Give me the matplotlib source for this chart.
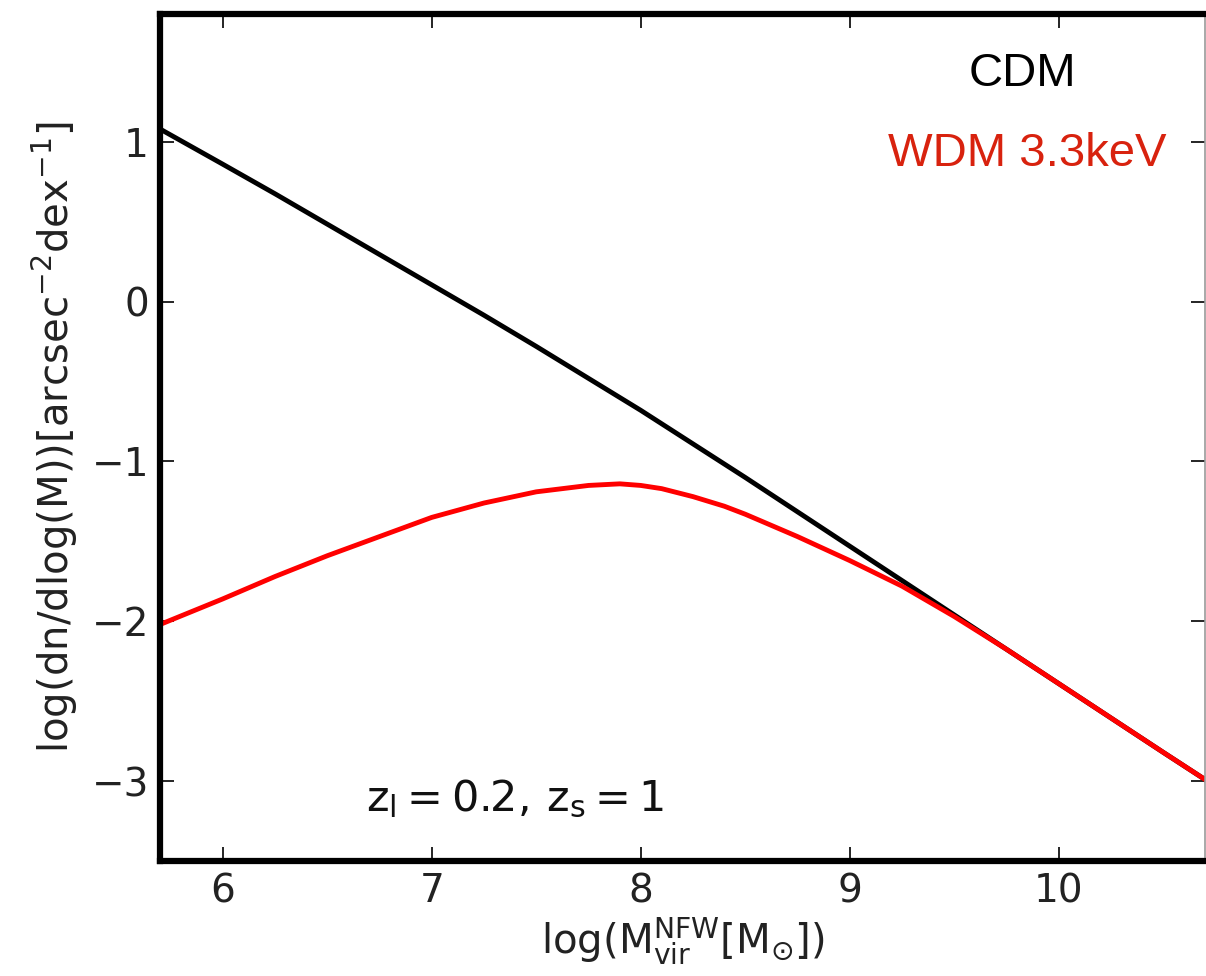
import matplotlib
matplotlib.use("Agg")
import matplotlib.pyplot as plt

plt.rcParams['mathtext.fontset'] = 'dejavusans'

# halo mass function along the line of sight, log10 of mass in Msun
logm_cdm = [5.7, 6.0, 6.25, 6.5, 6.75, 7.0, 7.25, 7.5, 7.75, 8.0, 8.25,
            8.5, 8.75, 9.0, 9.25, 9.5, 9.75, 10.0, 10.25, 10.5, 10.7]
dn_cdm = [1.08, 0.86, 0.675, 0.485, 0.295, 0.105, -0.085, -0.28, -0.48, -0.68, -0.89,
          -1.10, -1.315, -1.53, -1.745, -1.96, -2.175, -2.39, -2.605, -2.82, -2.99]

logm_wdm = [5.7, 6.0, 6.25, 6.5, 6.75, 7.0, 7.25, 7.5, 7.75, 7.9, 8.0, 8.1, 8.25,
            8.4, 8.5, 8.75, 9.0, 9.25, 9.5, 9.75, 10.0, 10.25, 10.5, 10.7]
dn_wdm = [-2.02, -1.86, -1.72, -1.59, -1.47, -1.35, -1.26, -1.19, -1.15, -1.14, -1.15, -1.17, -1.22,
          -1.28, -1.33, -1.47, -1.62, -1.78, -1.97, -2.175, -2.39, -2.605, -2.82, -2.99]

xticks = [6, 7, 8, 9, 10]
yticks = [1, 0, -1, -2, -3]

fig = plt.figure(figsize=(12.06, 9.76), dpi=100)
ax = fig.add_axes([0.1327, 0.1178, 0.8665, 0.8679])

ax.plot(logm_cdm, dn_cdm, color='black', lw=3.5)
ax.plot(logm_wdm, dn_wdm, color='red', lw=3.5)

ax.set_xlim(5.7, 10.7)
ax.set_ylim(-3.5, 1.8)
ax.set_xticks(xticks)
ax.set_yticks(yticks)
ax.tick_params(direction='in', length=10, width=1.2, labelsize=28,
               top=True, right=True, pad=8)
for lab in ax.get_xticklabels() + ax.get_yticklabels():
    lab.set_color('#222222')

for side in ['left', 'top', 'bottom']:
    ax.spines[side].set_linewidth(4.5)
ax.spines['right'].set_linewidth(1.2)
ax.spines['right'].set_color('#999999')

ax.set_xlabel(r'$\mathrm{log(M_{vir}^{NFW}[M_{\odot}])}$', fontsize=29,
              color='#222222', labelpad=4)
ax.set_ylabel(r'$\mathrm{log(dn/dlog(M))[arcsec^{-2}dex^{-1}]}$', fontsize=29,
              color='#222222', labelpad=8)

ax.text(0.825, 0.929, 'CDM', transform=ax.transAxes, fontsize=34,
        family='Liberation Sans', color='black', ha='center', va='center')
ax.text(0.83, 0.835, 'WDM 3.3keV', transform=ax.transAxes, fontsize=34,
        family='Liberation Sans', color='#d8220e', ha='center', va='center')
ax.text(0.197, 0.073, r'$\mathrm{z_l = 0.2,\, z_s = 1}$', transform=ax.transAxes,
        fontsize=31, color='#111111', ha='left', va='center')

fig.savefig('out.png', dpi=100)
